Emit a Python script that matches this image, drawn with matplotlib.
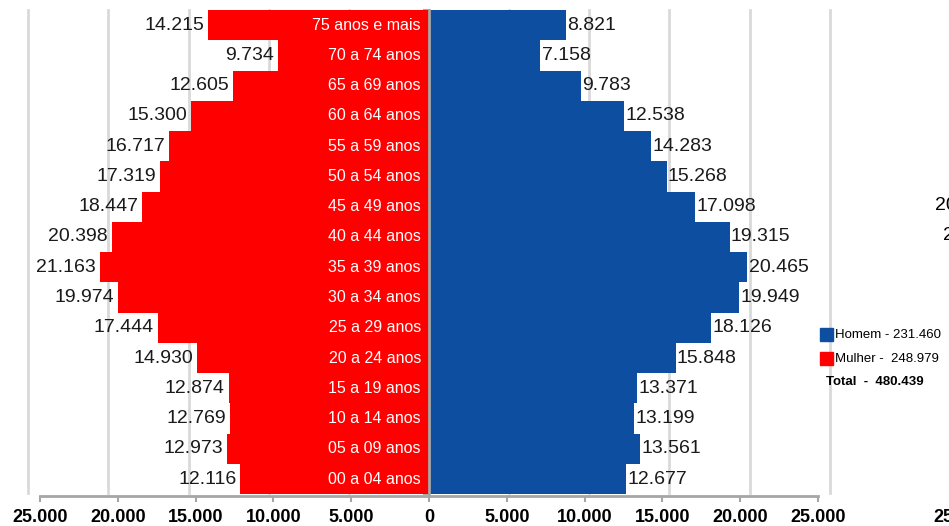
import matplotlib
matplotlib.use("Agg")  # sem display
import matplotlib.pyplot as plt
from matplotlib.patches import Rectangle

plt.rcParams['font.family'] = ['Liberation Sans', 'DejaVu Sans']

# faixas etarias, de baixo para cima
idades = ["00 a 04 anos", "05 a 09 anos", "10 a 14 anos", "15 a 19 anos",
          "20 a 24 anos", "25 a 29 anos", "30 a 34 anos", "35 a 39 anos",
          "40 a 44 anos", "45 a 49 anos", "50 a 54 anos", "55 a 59 anos",
          "60 a 64 anos", "65 a 69 anos", "70 a 74 anos", "75 anos e mais"]
mulher = [12116, 12973, 12769, 12874, 14930, 17444, 19974, 21163,
          20398, 18447, 17319, 16717, 15300, 12605, 9734, 14215]
homem = [12677, 13561, 13199, 13371, 15848, 18126, 19949, 20465,
         19315, 17098, 15268, 14283, 12538, 9783, 7158, 8821]
ticks = [-25000, -20000, -15000, -10000, -5000, 0, 5000, 10000, 15000, 20000, 25000]

legenda = [("Homem - 231.460", "#0D4EA0"), ("Mulher -  248.979", "#FF0000")]
total_txt = "Total  -  480.439"

vermelho = "#FF0000"
azul = "#0D4EA0"
cinza = "#A6A6A6"


def fmt(v):
    return f"{v:,}".replace(",", ".")


W, H = 949, 526
fig = plt.figure(figsize=(W / 100, H / 100), dpi=100)
ax = fig.add_axes([40 / W, 30 / H, 778 / W, 486 / H])

y = list(range(len(idades)))

# grade vertical (desalinhada como no original)
for k in range(-5, 6):
    if k == 0:
        continue
    ax.axvline(k * 5150, ymin=0.006, ymax=1, color="#D9D9D9", lw=2, zorder=0, clip_on=False)

ax.barh(y, [-m for m in mulher], height=1.0, color=vermelho, zorder=2)
ax.barh(y, homem, height=1.0, color=azul, zorder=2)

for i in y:
    ax.text(-mulher[i] - 250, i, fmt(mulher[i]), ha="right", va="center",
            fontsize=14, color="#1a1a1a", zorder=3)
    ax.text(homem[i] + 80, i, fmt(homem[i]), ha="left", va="center",
            fontsize=14, color="#1a1a1a", zorder=3)
    ax.text(-520, i, idades[i], ha="right", va="center",
            fontsize=11.5, color="white", zorder=3)

ax.set_xlim(-25000, 25000)
ax.set_ylim(-0.56, 15.5)

ax.set_xticks(ticks)
ax.set_xticklabels([fmt(abs(t)) for t in ticks], fontsize=13, fontweight="bold")
ax.tick_params(axis="x", direction="out", length=4, width=1.5, color=cinza, pad=5)

# eixo central com marcas entre as faixas
ax.spines["left"].set_position(("data", 0))
ax.spines["left"].set_color(cinza)
ax.spines["left"].set_linewidth(2)
ax.spines["left"].set_zorder(4)
ax.set_yticks([i + 0.5 for i in range(-1, len(idades))])
ax.set_yticklabels([])
ax.tick_params(axis="y", direction="out", length=4, width=1.5, color=cinza)
ax.spines["bottom"].set_color(cinza)
ax.spines["bottom"].set_linewidth(2)
ax.spines["top"].set_visible(False)
ax.spines["right"].set_visible(False)

# legenda
for j, (lab, cor) in enumerate(legenda):
    yy = 1 - (335 + j * 24) / H
    fig.patches.append(Rectangle((820 / W, yy - 6 / H), 13 / W, 13 / H,
                                 transform=fig.transFigure, color=cor))
    fig.text(835 / W, yy, lab, ha="left", va="center", fontsize=9.5)
fig.text(826 / W, 1 - 382 / H, total_txt, ha="left", va="center", fontsize=9.5,
         fontweight="bold")

# restos do grafico vizinho cortado
fig.text(935 / W, 1 - 205 / H, "20.000", ha="left", va="center", fontsize=14)
fig.text(943 / W, 1 - 235 / H, "20.000", ha="left", va="center", fontsize=14)
fig.text(933 / W, 1 - 518 / H, "25.000", ha="left", va="center", fontsize=13,
         fontweight="bold")

fig.savefig("out.png", dpi=100)
